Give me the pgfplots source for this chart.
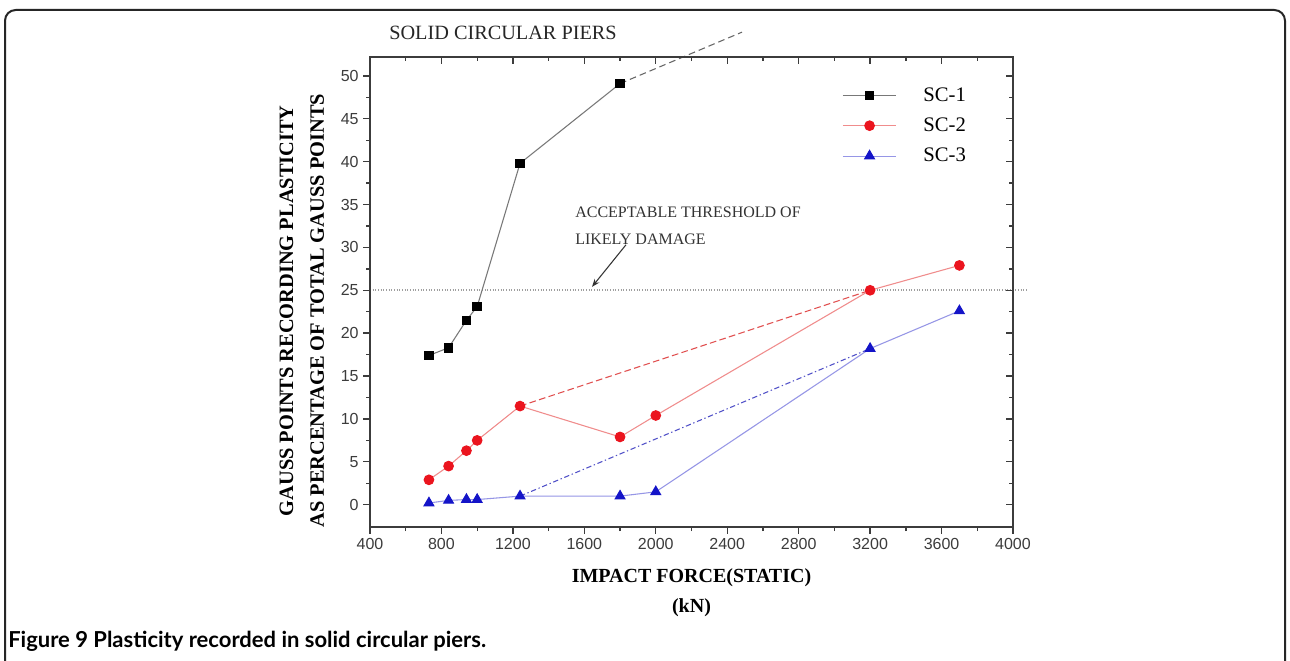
\documentclass[border=0pt]{standalone}
\usepackage{fontspec}
\setmainfont{Liberation Serif}
\newfontfamily\tickfont{Liberation Sans}
\newfontfamily\capfont{Lato}
\usepackage{pgfplots}
\pgfplotsset{compat=1.18}
\usetikzlibrary{arrows.meta}

\definecolor{sconeline}{RGB}{120,120,120}
\definecolor{sctwo}{RGB}{235,20,30}
\definecolor{sctwoline}{RGB}{240,140,140}
\definecolor{sctwodash}{RGB}{225,80,80}
\definecolor{scthree}{RGB}{20,20,200}
\definecolor{scthreeline}{RGB}{150,150,230}
\definecolor{scthreedash}{RGB}{80,80,200}
\definecolor{axisgray}{RGB}{60,60,60}

% one picture pixel = 0.75pt
\pgfplotsset{
  pierbase/.style={
    scale only axis, width=482.25pt, height=352.5pt,
    at={(277.5pt,100.5pt)}, anchor=south west,
    xmin=400, xmax=4000, ymin=-2.6, ymax=52.2,
    xtick={400,800,...,4000}, ytick={0,5,...,50},
    minor x tick num=1, minor y tick num=1,
    major tick length=5pt, minor tick length=3pt,
    axis line style={axisgray, line width=1.4pt},
    tick style={axisgray, line width=1pt},
  }
}

\begin{document}
\begin{tikzpicture}
\useasboundingbox (0,0) rectangle (967.5pt,495.75pt);
\fill[white] (0,0) rectangle (967.5pt,495.75pt);
\draw[line width=1.5pt, black!85, rounded corners=8pt] (3.75pt,-30pt) rectangle (963.75pt,488.25pt);

\begin{axis}[pierbase,
  tick align=outside, xtick pos=left, ytick pos=left,
  clip=false,
  tick label style={font=\tickfont\fontsize{12}{14}\selectfont, text=axisgray},
  /pgf/number format/assume math mode=true,
  /pgf/number format/1000 sep={},
  xlabel={IMPACT FORCE(STATIC)\\(kN)},
  xlabel style={at={(axis description cs:0.5,-0.14)}, anchor=center, align=center,
    font=\bfseries\fontsize{15}{22}\selectfont},
  ylabel={GAUSS POINTS RECORDING PLASTICITY\\AS PERCENTAGE OF TOTAL GAUSS POINTS},
  ylabel style={at={(axis description cs:-0.106,0.46)}, anchor=center, align=center,
    font=\bfseries\fontsize{15.3}{23}\selectfont},
  legend style={draw=none, fill=none, at={(axis description cs:0.728,0.947)}, anchor=north west,
    font=\fontsize{15.5}{17}\selectfont, row sep=7pt},
  legend cell align=left,
  legend image code/.code={
    \draw[mark repeat=2,mark phase=2,#1] plot coordinates {(0pt,0pt) (20pt,0pt) (40pt,0pt)};
    \path (58pt,0pt);},
]
% threshold of likely damage
\addplot[forget plot, gray!75, line width=1.2pt, dash pattern=on 0.7pt off 1.3pt]
  coordinates {(400,25) (4080,25)};
% trend lines
\addplot[forget plot, black!60, line width=0.8pt, dash pattern=on 5pt off 3pt]
  coordinates {(1800,49.1) (2483,55.1)};
\addplot[forget plot, sctwodash, line width=0.8pt, dash pattern=on 5pt off 2.5pt]
  coordinates {(1240,11.5) (3200,25.0)};
\addplot[forget plot, scthreedash, line width=0.8pt, dash pattern=on 4pt off 2pt on 1pt off 2pt]
  coordinates {(1240,1.0) (3200,18.2)};

\addplot[sconeline, line width=0.8pt, mark=square*, mark size=3.2pt,
  mark options={solid, draw=black, fill=black}]
  coordinates {(730,17.4) (840,18.3) (940,21.5) (1000,23.1) (1240,39.8) (1800,49.1)};
\addlegendentry{SC-1}
\addplot[sctwoline, line width=0.8pt, mark=*, mark size=3.6pt,
  mark options={solid, draw=sctwo, fill=sctwo}]
  coordinates {(730,2.9) (840,4.5) (940,6.3) (1000,7.5) (1240,11.5) (1800,7.9) (2000,10.4) (3200,25.0) (3700,27.9)};
\addlegendentry{SC-2}
\addplot[scthreeline, line width=0.8pt, mark=triangle*, mark size=4.2pt,
  mark options={solid, draw=scthree, fill=scthree}]
  coordinates {(730,0.2) (840,0.5) (940,0.6) (1000,0.6) (1240,1.0) (1800,1.0) (2000,1.5) (3200,18.2) (3700,22.6)};
\addlegendentry{SC-3}

\node[font=\fontsize{15.2}{17}\selectfont, text=black!85] at (axis cs:1145,55.0) {SOLID CIRCULAR PIERS};
\node[anchor=west, inner sep=0pt, font=\fontsize{12}{14}\selectfont, text=black!80] at (axis cs:1548,34.15) {ACCEPTABLE THRESHOLD OF};
\node[anchor=west, inner sep=0pt, font=\fontsize{12}{14}\selectfont, text=black!80] at (axis cs:1548,30.9) {LIKELY DAMAGE};
\draw[-{Stealth[length=6pt]}, line width=0.8pt, black!80] (axis cs:1833,30.3) -- (axis cs:1643,25.4);
\end{axis}

% mirrored ticks pointing inward on top and right
\begin{axis}[pierbase,
  tick align=inside, xtick pos=right, ytick pos=right,
  xticklabels={}, yticklabels={},
]
\end{axis}

\node[anchor=west, inner sep=0pt, font=\capfont\bfseries\fontsize{16.5}{19}\selectfont]
  at (6pt,15pt) {Figure 9 Plasticity recorded in solid circular piers.};
\end{tikzpicture}
\end{document}
